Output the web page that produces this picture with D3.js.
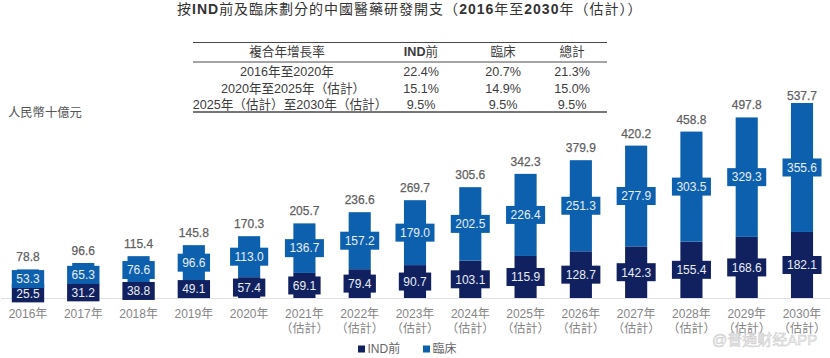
<!DOCTYPE html>
<html>
<head>
<meta charset="utf-8">
<script src="https://cdn.jsdelivr.net/npm/d3@7"></script>
<style>
  html, body { margin: 0; padding: 0; background: #fff; }
  svg { display: block; }
  text { font-family: "Liberation Sans", "Noto Sans CJK TC", sans-serif; }
</style>
</head>
<body>
<div id="chart"></div>
<script>
// data
const years = ["2016", "2017", "2018", "2019", "2020", "2021", "2022", "2023", "2024", "2025", "2026", "2027", "2028", "2029", "2030"];
const estimatedFrom = "2021";
const estimatedSecondLine = "（估計）";
const preInd = [25.5, 31.2, 38.8, 49.1, 57.4, 69.1, 79.4, 90.7, 103.1, 115.9, 128.7, 142.3, 155.4, 168.6, 182.1];
const clinical = [53.3, 65.3, 76.6, 96.6, 113.0, 136.7, 157.2, 179.0, 202.5, 226.4, 251.3, 277.9, 303.5, 329.3, 355.6];
const totals = [78.8, 96.6, 115.4, 145.8, 170.3, 205.7, 236.6, 269.7, 305.6, 342.3, 379.9, 420.2, 458.8, 497.8, 537.7];

// cagr table
const tableHeader = ["複合年增長率", "IND前", "臨床", "總計"];
const tableRows = [
    ["2016年至2020年", "22.4%", "20.7%", "21.3%"],
    ["2020年至2025年（估計）", "15.1%", "14.9%", "15.0%"],
    ["2025年（估計）至2030年（估計）", "9.5%", "9.5%", "9.5%"]
];

// svg container
const svgWidth = 830;
const svgHeight = 358;
const baseY = 298;
const topY = 103;

const darkBlue = "#11205f";
const midBlue = "#0d60ae";
const labelGrey = "#5f5f5f";
const tickGrey = "#858585";

const svg = d3.select("#chart").append("svg")
    .attr("width", svgWidth)
    .attr("height", svgHeight);

// scales
const xScale = d3.scaleBand()
    .domain(years)
    .range([0.35, 829.65])
    .paddingInner(0.6)
    .paddingOuter(0.3);

const yScale = d3.scaleLinear()
    .domain([0, d3.max(totals)])
    .range([baseY, topY]);

const barHeight = v => baseY - yScale(v);

// x axis, two line labels for the estimated years
const xAxis = d3.axisBottom(xScale).tickSize(0).tickPadding(11).tickFormat(d => d + "年");
const axisGroup = svg.append("g")
    .attr("transform", `translate(0, ${baseY})`)
    .call(xAxis);
axisGroup.attr("font-family", null);
axisGroup.select(".domain").attr("stroke", "#dfe1e6");
axisGroup.selectAll("text")
    .attr("font-size", 12)
    .attr("fill", tickGrey)
    .each(function(d) {
        if (d >= estimatedFrom) {
            d3.select(this).append("tspan")
                .attr("x", 0)
                .attr("dy", 15)
                .text(estimatedSecondLine);
        }
    });

// stacked bars
const barGroup = svg.append("g");
barGroup.selectAll(".ind")
    .data(years)
    .enter()
    .append("rect")
    .attr("class", "ind")
    .attr("x", d => xScale(d))
    .attr("y", (d, i) => yScale(preInd[i]))
    .attr("width", xScale.bandwidth())
    .attr("height", (d, i) => barHeight(preInd[i]))
    .attr("fill", darkBlue);
barGroup.selectAll(".clin")
    .data(years)
    .enter()
    .append("rect")
    .attr("class", "clin")
    .attr("x", d => xScale(d))
    .attr("y", (d, i) => yScale(preInd[i] + clinical[i]))
    .attr("width", xScale.bandwidth())
    .attr("height", (d, i) => barHeight(clinical[i]))
    .attr("fill", midBlue);

// value boxes, text width decides box width
function drawBoxes(values, centerOf, fill) {
    const g = svg.append("g");
    const cells = g.selectAll("g")
        .data(values)
        .enter()
        .append("g")
        .attr("transform", (v, i) => `translate(${xScale(years[i]) + xScale.bandwidth() / 2}, ${centerOf(v, i)})`);
    cells.append("text")
        .attr("text-anchor", "middle")
        .attr("dy", "0.36em")
        .attr("font-size", 12)
        .attr("fill", "#e8eef6")
        .text(v => v.toFixed(1));
    cells.insert("rect", "text")
        .attr("x", function() { return -(this.parentNode.querySelector("text").getComputedTextLength() + 9) / 2; })
        .attr("y", -9)
        .attr("width", function() { return this.parentNode.querySelector("text").getComputedTextLength() + 9; })
        .attr("height", 18)
        .attr("fill", fill);
}
drawBoxes(preInd, v => yScale(v / 2), darkBlue);
drawBoxes(clinical, (v, i) => yScale(preInd[i] + v / 2), midBlue);

// totals above bars, the last one sits closer to its bar
svg.append("g").selectAll("text")
    .data(totals)
    .enter()
    .append("text")
    .attr("x", (v, i) => xScale(years[i]) + xScale.bandwidth() / 2)
    .attr("y", (v, i) => yScale(v) - (i === totals.length - 1 ? 3.5 : 8))
    .attr("text-anchor", "middle")
    .attr("font-size", 12)
    .attr("fill", labelGrey)
    .attr("stroke", labelGrey)
    .attr("stroke-width", 0.25)
    .text(v => v.toFixed(1));

// title, latin part is bold
const title = svg.append("text")
    .attr("x", 177)
    .attr("y", 14)
    .attr("font-size", 14)
    .attr("letter-spacing", "1px")
    .attr("fill", "#333");
[["按", 400], ["IND", 700], ["前及臨床劃分的中國醫藥研發開支（", 400], ["2016", 700], ["年至", 400], ["2030", 700], ["年（估計））", 400]]
    .forEach(p => title.append("tspan").attr("font-weight", p[1]).text(p[0]));

// y unit
svg.append("text")
    .attr("x", 8)
    .attr("y", 117)
    .attr("font-size", 12.3)
    .attr("fill", "#555")
    .text("人民幣十億元");

// table
const colX = [287, 421, 503, 572];
const rowY = [56, 75.5, 92.5, 109];
// first column is nudged per row, the brackets carry blank space
const firstColShift = [0, 0, 6, 3];
const ruleY = [[42.5, 1.2], [62, 1], [112, 1.6]];
svg.append("g").selectAll("line")
    .data(ruleY)
    .enter()
    .append("line")
    .attr("x1", 193)
    .attr("x2", 607)
    .attr("y1", d => d[0])
    .attr("y2", d => d[0])
    .attr("stroke", "#4a4a4a")
    .attr("stroke-width", d => d[1]);
[tableHeader].concat(tableRows).forEach((row, r) => {
    const cells = svg.append("g").selectAll("text")
        .data(row)
        .enter()
        .append("text")
        .attr("x", (d, c) => colX[c] + (c === 0 ? firstColShift[r] : 0))
        .attr("y", rowY[r])
        .attr("text-anchor", "middle")
        .attr("font-size", 12.6)
        .attr("fill", "#3c3c3c");
    if (r === 0) {
        // only the latin letters of the header are bold
        cells.each(function(d) {
            const latin = d.match(/^[A-Z]+/);
            if (latin) d3.select(this).append("tspan").attr("font-weight", 700).text(latin[0]);
            d3.select(this).append("tspan").text(latin ? d.slice(latin[0].length) : d);
        });
    } else {
        cells.text(d => d);
    }
});

// legend
const legendItems = [["IND前", darkBlue, 358], ["臨床", midBlue, 423]];
const legend = svg.append("g").selectAll("g")
    .data(legendItems)
    .enter()
    .append("g")
    .attr("transform", d => `translate(${d[2]}, 349)`);
legend.append("rect")
    .attr("y", -3.5)
    .attr("width", 7)
    .attr("height", 7)
    .attr("fill", d => d[1]);
legend.append("text")
    .attr("x", 9.5)
    .attr("dy", "0.36em")
    .attr("font-size", 12)
    .attr("fill", "#666")
    .text(d => d[0]);

// watermark
svg.append("text")
    .attr("x", 712)
    .attr("y", 345)
    .attr("font-size", 15)
    .attr("fill", "#f2f2f2")
    .attr("stroke", "#c8c8c8")
    .attr("stroke-width", 0.5)
    .text("@普通财经APP");
</script>
</body>
</html>
